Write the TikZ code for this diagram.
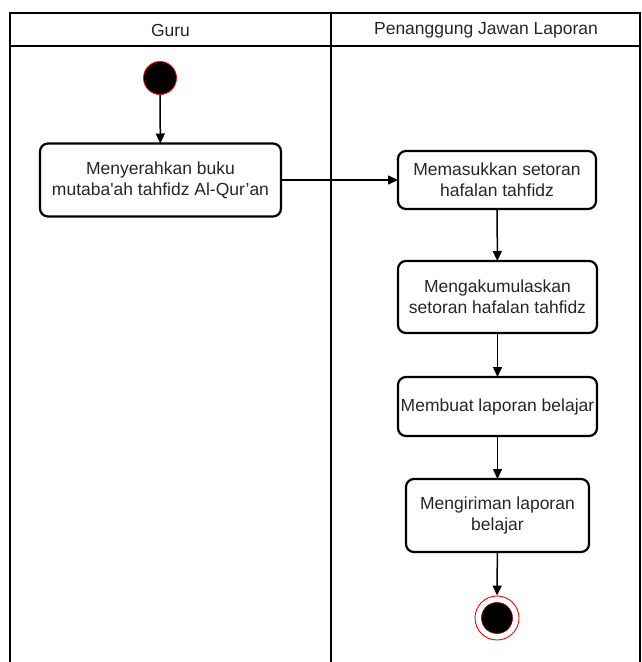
\documentclass[tikz,border=0pt]{standalone}
\usepackage{fontspec}
\setmainfont{Liberation Sans}
\usetikzlibrary{arrows.meta}
\definecolor{txt}{HTML}{262626}
\tikzset{
  lane/.style={line width=1.6pt},
  act/.style={draw, line width=2.2pt, rounded corners=8pt, align=center, inner sep=0pt, outer sep=0pt,
    text=txt, font=\fontsize{17.5}{21}\selectfont},
  startnode/.style={circle, draw=red, fill=black, line width=0.8pt, minimum size=33pt, inner sep=0pt},
  endring/.style={circle, draw=red, fill=white, line width=0.9pt, minimum size=44pt, inner sep=0pt},
  enddot/.style={circle, draw=red!60!black, fill=black, line width=0.6pt, minimum size=31pt, inner sep=0pt},
  flow/.style={line width=1.5pt, -{Triangle[length=10pt,width=9pt]}}
}
\begin{document}
\begin{tikzpicture}[x=1pt,y=-1pt]
   \useasboundingbox (0,0) rectangle (641,662);
   % swimlanes
   \draw[lane] (10,662) -- (10,13) -- (640,13) -- (640,662);
   \draw[lane] (10,46) -- (640,46);
   \draw[lane] (331,13) -- (331,662);
   \node[text=txt, font=\fontsize{17.5}{21}\selectfont] (guru) at (170.5,30) {Guru};
   \node[text=txt, font=\fontsize{17.5}{21}\selectfont] (pjl) at (486,30) {Penanggung Jawan Laporan};

   \node[startnode] (start) at (160,78) {};
   \node[act, minimum width=241pt, minimum height=73pt] (A) at (160.5,180)
      {Menyerahkan buku\\mutaba\textquotesingle ah tahfidz Al-Qur’an};
   \node[act, minimum width=198pt, minimum height=58pt] (B) at (497,180)
      {Memasukkan setoran\\hafalan tahfidz};
   \node[act, minimum width=199pt, minimum height=72pt] (C) at (497.5,297)
      {Mengakumulaskan\\setoran hafalan tahfidz};
   \node[act, minimum width=199pt, minimum height=59pt] (D) at (497.5,406.5)
      {Membuat laporan belajar};
   \node[act, minimum width=183pt, minimum height=73pt] (E) at (497.5,515.5)
      {Mengiriman laporan\\belajar};
   \node[endring] (stop) at (497,618) {};
   \node[enddot] (stopdot) at (stop) {};

   \draw[flow] (start) -- (A);
   \draw[flow] (A.east) -- (B.west);
   \draw[flow] (B) -- (C);
   \draw[flow] (C) -- (D);
   \draw[flow] (D) -- (E);
   \draw[flow] (E) -- (stop);
\end{tikzpicture}
\end{document}
